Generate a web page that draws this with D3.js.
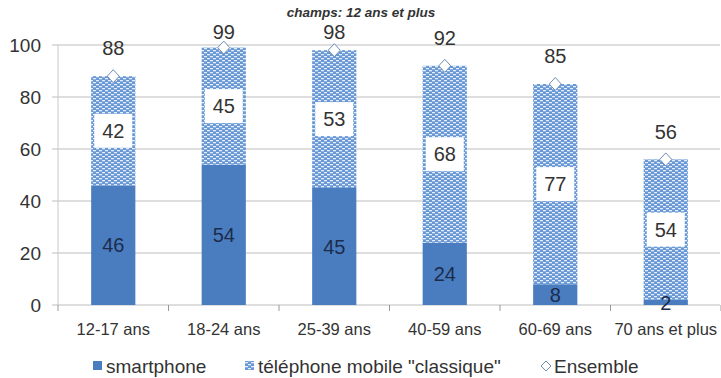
<!DOCTYPE html>
<html><head><meta charset="utf-8">
<script src="https://cdn.jsdelivr.net/npm/d3@7"></script>
<style>
html,body{margin:0;padding:0;background:#fff;}
svg{display:block;font-family:"Liberation Sans",Arial,sans-serif;}
</style></head>
<body>
<svg id="c" width="721" height="378"></svg>
<script>
const categories = ["12-17 ans","18-24 ans","25-39 ans","40-59 ans","60-69 ans","70 ans et plus"];
const smartphone = [46,54,45,24,8,2];
const classique = [42,45,53,68,77,54];
const ensemble = [88,99,98,92,85,56];
const yTicks = [0,20,40,60,80,100];
const seriesNames = ["smartphone","téléphone mobile \"classique\"","Ensemble"];
const subtitle = "champs: 12 ans et plus";

const svg = d3.select("#c");
const W = 721, H = 378;
const m = {left:58, right:0, top:45, bottom:73};

const x = d3.scaleBand().domain(categories).range([m.left, W - m.right]).paddingInner(0.6).paddingOuter(0.3);
const y = d3.scaleLinear().domain([0,100]).range([H - m.bottom, m.top]);

const defs = svg.append("defs");
const pat = defs.append("pattern").attr("id","dots").attr("patternUnits","userSpaceOnUse")
  .attr("width",6).attr("height",4);
pat.append("rect").attr("width",6).attr("height",4).attr("fill","#6898d6");
pat.append("rect").attr("x",0).attr("y",0).attr("width",3).attr("height",1.3).attr("fill","#e6eef9");
pat.append("rect").attr("x",3).attr("y",2).attr("width",3).attr("height",1.3).attr("fill","#e6eef9");

const diamond = (w,h) => `M0,${-h}L${w},0L0,${h}L${-w},0Z`;

// subtitle
svg.append("text").attr("x",361).attr("y",17).attr("text-anchor","middle")
  .attr("font-size",13.5).attr("font-weight","bold").attr("font-style","italic").attr("fill","#333")
  .text(subtitle);

// gridlines
svg.append("g").selectAll("line").data(yTicks).join("line")
  .attr("x1",m.left-6).attr("x2",W-m.right-1)
  .attr("y1",d=>y(d)).attr("y2",d=>y(d))
  .attr("stroke","#bdbdbd").attr("stroke-width",1.2);

// y axis line
svg.append("line").attr("x1",m.left).attr("x2",m.left).attr("y1",y(100)).attr("y2",y(0))
  .attr("stroke","#c8c8c8").attr("stroke-width",1);

// y labels
svg.append("g").selectAll("text").data(yTicks).join("text")
  .attr("x",41).attr("y",d=>y(d)).attr("dy","0.35em").attr("text-anchor","end")
  .attr("font-size",19).attr("fill","#333").text(d=>d);

// x ticks
const step = x.step();
svg.append("g").selectAll("line").data(d3.range(categories.length+1)).join("line")
  .attr("x1",i=>m.left + i*step).attr("x2",i=>m.left + i*step)
  .attr("y1",y(0)).attr("y2",y(0)+6).attr("stroke","#999");

// bars
const bw = x.bandwidth();
svg.append("g").selectAll("rect").data(categories).join("rect")
  .attr("x",d=>x(d)).attr("width",bw)
  .attr("y",(d,i)=>y(smartphone[i])).attr("height",(d,i)=>y(0)-y(smartphone[i]))
  .attr("fill","#4a7dc0");
svg.append("g").selectAll("rect").data(categories).join("rect")
  .attr("x",d=>x(d)).attr("width",bw)
  .attr("y",(d,i)=>y(smartphone[i]+classique[i])).attr("height",(d,i)=>y(smartphone[i])-y(smartphone[i]+classique[i]))
  .attr("fill","url(#dots)");

// classique label boxes
const cl = svg.append("g").selectAll("g").data(categories).join("g")
  .attr("transform",(d,i)=>`translate(${x(d)+bw/2},${y(smartphone[i]+classique[i]/2)})`);
cl.append("rect").attr("x",-19).attr("y",-17).attr("width",38).attr("height",34).attr("fill","#fff");
cl.append("text").attr("text-anchor","middle").attr("dy","0.36em").attr("font-size",20).attr("fill","#333")
  .text((d,i)=>classique[i]);

// smartphone labels
svg.append("g").selectAll("text").data(categories).join("text")
  .attr("x",d=>x(d)+bw/2).attr("y",(d,i)=>y(smartphone[i]/2)).attr("dy","0.36em")
  .attr("text-anchor","middle").attr("font-size",20).attr("fill","#1c2c4c")
  .text((d,i)=>smartphone[i]);

// ensemble markers
svg.append("g").selectAll("path").data(categories).join("path")
  .attr("d",diamond(6,6.5)).attr("transform",(d,i)=>`translate(${x(d)+bw/2},${y(ensemble[i])})`)
  .attr("fill","#fff").attr("stroke","#6d8db5").attr("stroke-width",1);
svg.append("g").selectAll("text").data(categories).join("text")
  .attr("x",d=>x(d)+bw/2).attr("y",(d,i)=>Math.max(y(ensemble[i])-28,32)).attr("dy","0.36em")
  .attr("text-anchor","middle").attr("font-size",20).attr("fill","#333")
  .text((d,i)=>ensemble[i]);

// x labels
svg.append("g").selectAll("text").data(categories).join("text")
  .attr("x",d=>x(d)+bw/2).attr("y",335).attr("text-anchor","middle")
  .attr("font-size",16.5).attr("fill","#333").text(d=>d);

// legend
const lx = [93,245,541];
const lg = svg.append("g").selectAll("g").data(seriesNames).join("g")
  .attr("transform",(d,i)=>`translate(${lx[i]},366)`);
lg.each(function(d,i){
  const g = d3.select(this);
  if(i===0) g.append("rect").attr("x",0).attr("y",-5).attr("width",9).attr("height",9).attr("fill","#4a7dc0");
  else if(i===1) g.append("rect").attr("x",0).attr("y",-5).attr("width",9).attr("height",9).attr("fill","url(#dots)");
  else g.append("path").attr("d",diamond(5,5)).attr("transform","translate(5,0)")
    .attr("fill","#fff").attr("stroke","#6d8db5");
  g.append("text").attr("x",13).attr("dy","0.35em").attr("font-size",19).attr("fill","#333").text(d);
});
</script>
</body></html>
